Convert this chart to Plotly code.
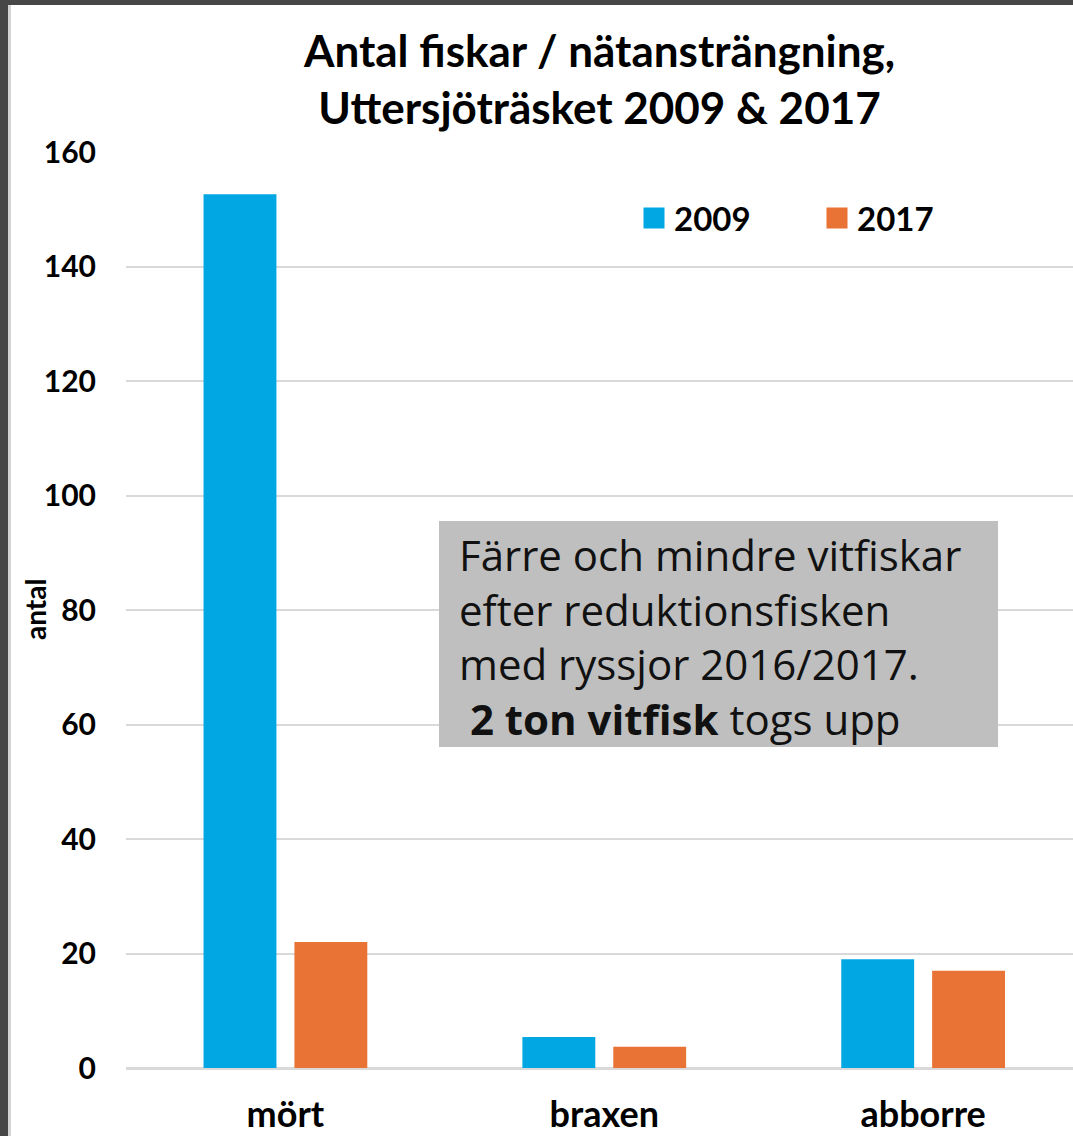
import plotly.graph_objects as go

categories = ["mört", "braxen", "abborre"]
series_names = ["2009", "2017"]
values_2009 = [152.6, 5.4, 19.0]
values_2017 = [22.0, 3.7, 17.0]
y_tick_values = [0, 20, 40, 60, 80, 100, 120, 140, 160]
title_lines = ["Antal fiskar / nätansträngning,", "Uttersjöträsket 2009 & 2017"]
note_lines = ["Färre och mindre vitfiskar", "efter reduktionsfisken",
              "med ryssjor 2016/2017.", " <b>2 ton vitfisk</b> togs upp"]
y_title = "antal"

BLUE = "#00A7E3"
ORANGE = "#E97235"
FONT = "Lato, Carlito, Liberation Sans, sans-serif"

W, H = 1073, 1136
ML, MR, MT, MB = 126, 0, 152, 68
PW, PH = W - ML - MR, H - MT - MB

def px_x(p):
    return (p - ML) / PW

def px_y(p):
    return (H - MB - p) / PH

fig = go.Figure()
fig.add_trace(go.Bar(name=series_names[0], x=categories, y=values_2009, showlegend=False,
                     marker=dict(color=BLUE, line=dict(width=0))))
fig.add_trace(go.Bar(name=series_names[1], x=categories, y=values_2017, showlegend=False,
                     marker=dict(color=ORANGE, line=dict(width=0))))
# legend entries with larger square swatches
for name, col in zip(series_names, [BLUE, ORANGE]):
    fig.add_trace(go.Scatter(name=name, x=[None], y=[None], mode="markers",
                             marker=dict(symbol="square", size=16, color=col,
                                         line=dict(color=col, width=5)),
                             hoverinfo="skip"))

shapes = [
    # grey note box
    dict(type="rect", xref="paper", yref="paper",
         x0=px_x(439), x1=px_x(998), y0=px_y(747), y1=px_y(521),
         fillcolor="#BFBFBF", line=dict(width=0), layer="above"),
    # slide frame (dark edges)
    dict(type="rect", xref="paper", yref="paper",
         x0=px_x(0), x1=px_x(8), y0=px_y(H), y1=px_y(0),
         fillcolor="#474747", line=dict(width=0), layer="above"),
    dict(type="rect", xref="paper", yref="paper",
         x0=px_x(8), x1=px_x(11), y0=px_y(H), y1=px_y(5),
         fillcolor="#D4D4D4", line=dict(width=0), layer="above"),
    dict(type="rect", xref="paper", yref="paper",
         x0=px_x(0), x1=px_x(W), y0=px_y(5), y1=px_y(0),
         fillcolor="#474747", line=dict(width=0), layer="above"),
]

annotations = [
    dict(xref="paper", yref="paper", x=px_x(457), y=px_y(636),
         xanchor="left", yanchor="middle", align="left", showarrow=False,
         text="<br>".join(note_lines),
         font=dict(family="Open Sans, Noto Sans, sans-serif", size=42, color="#111111")),
    dict(xref="paper", yref="paper", x=px_x(35), y=0.5,
         xanchor="center", yanchor="middle", textangle=-90, showarrow=False,
         text="<b>" + y_title + "</b>",
         font=dict(family=FONT, size=28, color="#000000")),
]

fig.update_layout(
    width=W, height=H,
    margin=dict(l=ML, r=MR, t=MT, b=MB, pad=0),
    paper_bgcolor="white", plot_bgcolor="white",
    barmode="group", bargap=0.43, bargroupgap=0.198,
    title=dict(text="<b>" + "<br>".join(title_lines) + "</b>",
               x=0.5, xref="paper", xanchor="center",
               y=1 - 67 / H, yref="container", yanchor="middle",
               font=dict(family=FONT, size=44, color="#000000")),
    font=dict(family=FONT, color="#000000"),
    legend=dict(orientation="h", x=px_x(634), y=px_y(218), xanchor="left", yanchor="middle",
                xref="paper", yref="paper",
                font=dict(family=FONT, size=33, color="#000000", weight="bold"),
                entrywidth=138, entrywidthmode="pixels",
                bgcolor="rgba(0,0,0,0)"),
    xaxis=dict(range=[-0.5, 2.47], showline=False, ticks="", showgrid=False,
               tickfont=dict(family=FONT, size=36, color="#000000", weight="bold"),
               ticklabelstandoff=22, fixedrange=True),
    yaxis=dict(range=[0, 160], tickvals=y_tick_values, showline=False, ticks="",
               showgrid=True, gridcolor="#D9D9D9", gridwidth=2,
               zeroline=True, zerolinecolor="#D9D9D9", zerolinewidth=3,
               tickfont=dict(family=FONT, size=30, color="#000000", weight="bold"),
               ticklabelstandoff=29, fixedrange=True),
    shapes=shapes, annotations=annotations,
    showlegend=True,
)

fig.write_html("out.html", config={"displayModeBar": False},
               post_script="document.body.style.margin='0';document.body.style.overflow='hidden';")
